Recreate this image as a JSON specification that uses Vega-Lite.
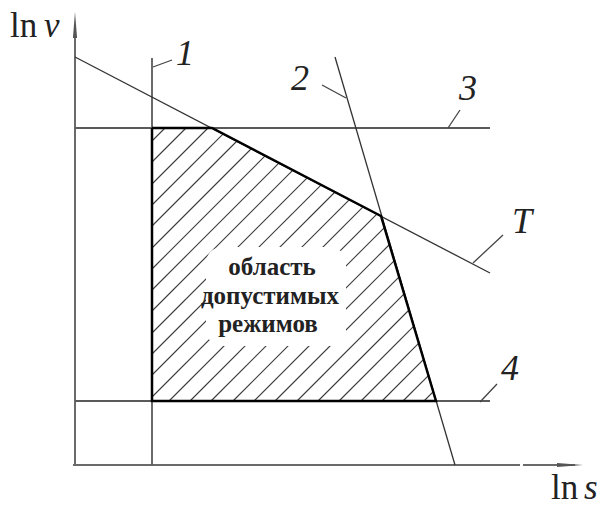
{
  "$schema": "https://vega.github.io/schema/vega-lite/v6.json",
  "width": 601,
  "height": 507,
  "padding": 0,
  "autosize": {"type": "none"},
  "background": "white",
  "config": {"view": {"stroke": null}},
  "datasets": {
    "hatch": [
      {"x": 77, "y": 324, "x2": 90, "y2": 337},
      {"x": 77, "y": 303, "x2": 111, "y2": 337},
      {"x": 77, "y": 281, "x2": 133, "y2": 337},
      {"x": 77, "y": 260, "x2": 148.2, "y2": 331.2},
      {"x": 77, "y": 239, "x2": 162.0, "y2": 324.0},
      {"x": 77, "y": 217, "x2": 176.5, "y2": 316.5},
      {"x": 77, "y": 196, "x2": 190.3, "y2": 309.3},
      {"x": 77, "y": 175, "x2": 204.1, "y2": 302.1},
      {"x": 77, "y": 154, "x2": 217.9, "y2": 294.9},
      {"x": 77, "y": 132, "x2": 232.4, "y2": 287.4},
      {"x": 77, "y": 111, "x2": 246.2, "y2": 280.2},
      {"x": 77, "y": 90, "x2": 260.0, "y2": 273.0},
      {"x": 77, "y": 68, "x2": 274.4, "y2": 265.4},
      {"x": 94, "y": 64, "x2": 288.3, "y2": 258.3},
      {"x": 115, "y": 64, "x2": 302.1, "y2": 251.1},
      {"x": 136, "y": 64, "x2": 309.4, "y2": 237.4},
      {"x": 158, "y": 64, "x2": 314.5, "y2": 220.5},
      {"x": 179, "y": 64, "x2": 319.3, "y2": 204.3},
      {"x": 200, "y": 64, "x2": 324.1, "y2": 188.1},
      {"x": 222, "y": 64, "x2": 329.1, "y2": 171.1},
      {"x": 243, "y": 64, "x2": 334.0, "y2": 155.0},
      {"x": 264, "y": 64, "x2": 338.8, "y2": 138.8},
      {"x": 286, "y": 64, "x2": 343.8, "y2": 121.8},
      {"x": 307, "y": 64, "x2": 348.6, "y2": 105.6},
      {"x": 328, "y": 64, "x2": 353.4, "y2": 89.4},
      {"x": 349, "y": 64, "x2": 358.3, "y2": 73.3}
    ],
    "labelBox": [
      {"x": 131, "y": 119, "x2": 271, "y2": 218}
    ],
    "axes": [
      {"x": -2, "y": 0, "x2": 445, "y2": 0},
      {"x": 448, "y": 0, "x2": 500, "y2": 0},
      {"x": 0, "y": -1, "x2": 0, "y2": 440}
    ],
    "guides": [
      {"name": "1", "x": 77, "y": 0, "x2": 77, "y2": 407},
      {"name": "3", "x": 0, "y": 337, "x2": 415, "y2": 337},
      {"name": "4", "x": 0, "y": 64, "x2": 415, "y2": 64}
    ],
    "slopes": [
      {"name": "T", "x": 0, "y": 408, "x2": 415, "y2": 192},
      {"name": "2", "x": 260, "y": 408, "x2": 380, "y2": 0}
    ],
    "leaders": [
      {"name": "1", "x": 78, "y": 398, "x2": 97, "y2": 405},
      {"name": "2", "x": 247, "y": 380, "x2": 271, "y2": 367},
      {"name": "3", "x": 373, "y": 337, "x2": 385, "y2": 355},
      {"name": "T", "x": 398, "y": 202, "x2": 428, "y2": 230},
      {"name": "4", "x": 405, "y": 63, "x2": 422, "y2": 81}
    ],
    "region": [
      {"i": 0, "x": 77, "y": 337},
      {"i": 1, "x": 137, "y": 337},
      {"i": 2, "x": 306, "y": 249},
      {"i": 3, "x": 361, "y": 64},
      {"i": 4, "x": 77, "y": 64},
      {"i": 5, "x": 77, "y": 337}
    ],
    "arrowX": [{"x": 495, "y": 0}],
    "arrowY": [{"x": 0, "y": 440}],
    "curveLabels": [
      {"text": "1", "x": 110, "y": 400},
      {"text": "2", "x": 225, "y": 375},
      {"text": "3", "x": 393, "y": 365},
      {"text": "T", "x": 447, "y": 232},
      {"text": "4", "x": 435, "y": 85}
    ],
    "axisNames": [
      {"text": "ln", "x": -65, "y": 428},
      {"text": "ln", "x": 476, "y": -34}
    ],
    "axisVars": [
      {"text": "v", "x": -31, "y": 428},
      {"text": "s", "x": 509, "y": -34}
    ],
    "regionText": [
      {"text": "область", "x": 197, "y": 190},
      {"text": "допустимых", "x": 195, "y": 161},
      {"text": "режимов", "x": 193, "y": 133}
    ]
  },
  "layer": [
    {
      "data": {"name": "hatch"},
      "mark": {"type": "rule", "stroke": "#3a3a3a", "strokeWidth": 1.1},
      "encoding": {
        "x": {"field": "x", "type": "quantitative", "scale": {"domain": [-75, 526], "nice": false, "zero": false}, "axis": null},
        "y": {"field": "y", "type": "quantitative", "scale": {"domain": [-42, 465], "nice": false, "zero": false}, "axis": null},
        "x2": {"field": "x2"},
        "y2": {"field": "y2"}
      }
    },
    {
      "data": {"name": "labelBox"},
      "mark": {"type": "rect", "fill": "white", "cornerRadius": 16},
      "encoding": {
        "x": {"field": "x", "type": "quantitative"},
        "y": {"field": "y", "type": "quantitative"},
        "x2": {"field": "x2"},
        "y2": {"field": "y2"}
      }
    },
    {
      "data": {"name": "axes"},
      "mark": {"type": "rule", "stroke": "#6a6a6a", "strokeWidth": 2},
      "encoding": {
        "x": {"field": "x", "type": "quantitative"},
        "y": {"field": "y", "type": "quantitative"},
        "x2": {"field": "x2"},
        "y2": {"field": "y2"}
      }
    },
    {
      "data": {"name": "guides"},
      "mark": {"type": "rule", "stroke": "#5a5a5a", "strokeWidth": 1.8},
      "encoding": {
        "x": {"field": "x", "type": "quantitative"},
        "y": {"field": "y", "type": "quantitative"},
        "x2": {"field": "x2"},
        "y2": {"field": "y2"}
      }
    },
    {
      "data": {"name": "slopes"},
      "mark": {"type": "rule", "stroke": "#333", "strokeWidth": 1.3},
      "encoding": {
        "x": {"field": "x", "type": "quantitative"},
        "y": {"field": "y", "type": "quantitative"},
        "x2": {"field": "x2"},
        "y2": {"field": "y2"}
      }
    },
    {
      "data": {"name": "leaders"},
      "mark": {"type": "rule", "stroke": "#444", "strokeWidth": 1.3},
      "encoding": {
        "x": {"field": "x", "type": "quantitative"},
        "y": {"field": "y", "type": "quantitative"},
        "x2": {"field": "x2"},
        "y2": {"field": "y2"}
      }
    },
    {
      "data": {"name": "region"},
      "mark": {"type": "line", "stroke": "#000", "strokeWidth": 2.5, "strokeJoin": "miter"},
      "encoding": {
        "x": {"field": "x", "type": "quantitative"},
        "y": {"field": "y", "type": "quantitative"},
        "order": {"field": "i", "type": "quantitative"}
      }
    },
    {
      "data": {"name": "arrowX"},
      "mark": {"type": "point", "shape": "M -1 -0.16 L 1 0 L -1 0.16 Z", "filled": true, "size": 676, "color": "#555", "opacity": 1},
      "encoding": {
        "x": {"field": "x", "type": "quantitative"},
        "y": {"field": "y", "type": "quantitative"}
      }
    },
    {
      "data": {"name": "arrowY"},
      "mark": {"type": "point", "shape": "M -0.16 1 L 0 -1 L 0.16 1 Z", "filled": true, "size": 676, "color": "#555", "opacity": 1},
      "encoding": {
        "x": {"field": "x", "type": "quantitative"},
        "y": {"field": "y", "type": "quantitative"}
      }
    },
    {
      "data": {"name": "curveLabels"},
      "mark": {"type": "text", "font": "Liberation Serif", "fontStyle": "italic", "fontSize": 36, "align": "center", "baseline": "alphabetic", "color": "#222"},
      "encoding": {
        "x": {"field": "x", "type": "quantitative"},
        "y": {"field": "y", "type": "quantitative"},
        "text": {"field": "text"}
      }
    },
    {
      "data": {"name": "axisNames"},
      "mark": {"type": "text", "font": "Liberation Serif", "fontSize": 35, "align": "left", "baseline": "alphabetic", "color": "#222"},
      "encoding": {
        "x": {"field": "x", "type": "quantitative"},
        "y": {"field": "y", "type": "quantitative"},
        "text": {"field": "text"}
      }
    },
    {
      "data": {"name": "axisVars"},
      "mark": {"type": "text", "font": "Liberation Serif", "fontStyle": "italic", "fontSize": 35, "align": "left", "baseline": "alphabetic", "color": "#222"},
      "encoding": {
        "x": {"field": "x", "type": "quantitative"},
        "y": {"field": "y", "type": "quantitative"},
        "text": {"field": "text"}
      }
    },
    {
      "data": {"name": "regionText"},
      "mark": {"type": "text", "font": "Liberation Serif", "fontWeight": "bold", "fontSize": 25, "align": "center", "baseline": "alphabetic", "color": "#222"},
      "encoding": {
        "x": {"field": "x", "type": "quantitative"},
        "y": {"field": "y", "type": "quantitative"},
        "text": {"field": "text"}
      }
    }
  ]
}
